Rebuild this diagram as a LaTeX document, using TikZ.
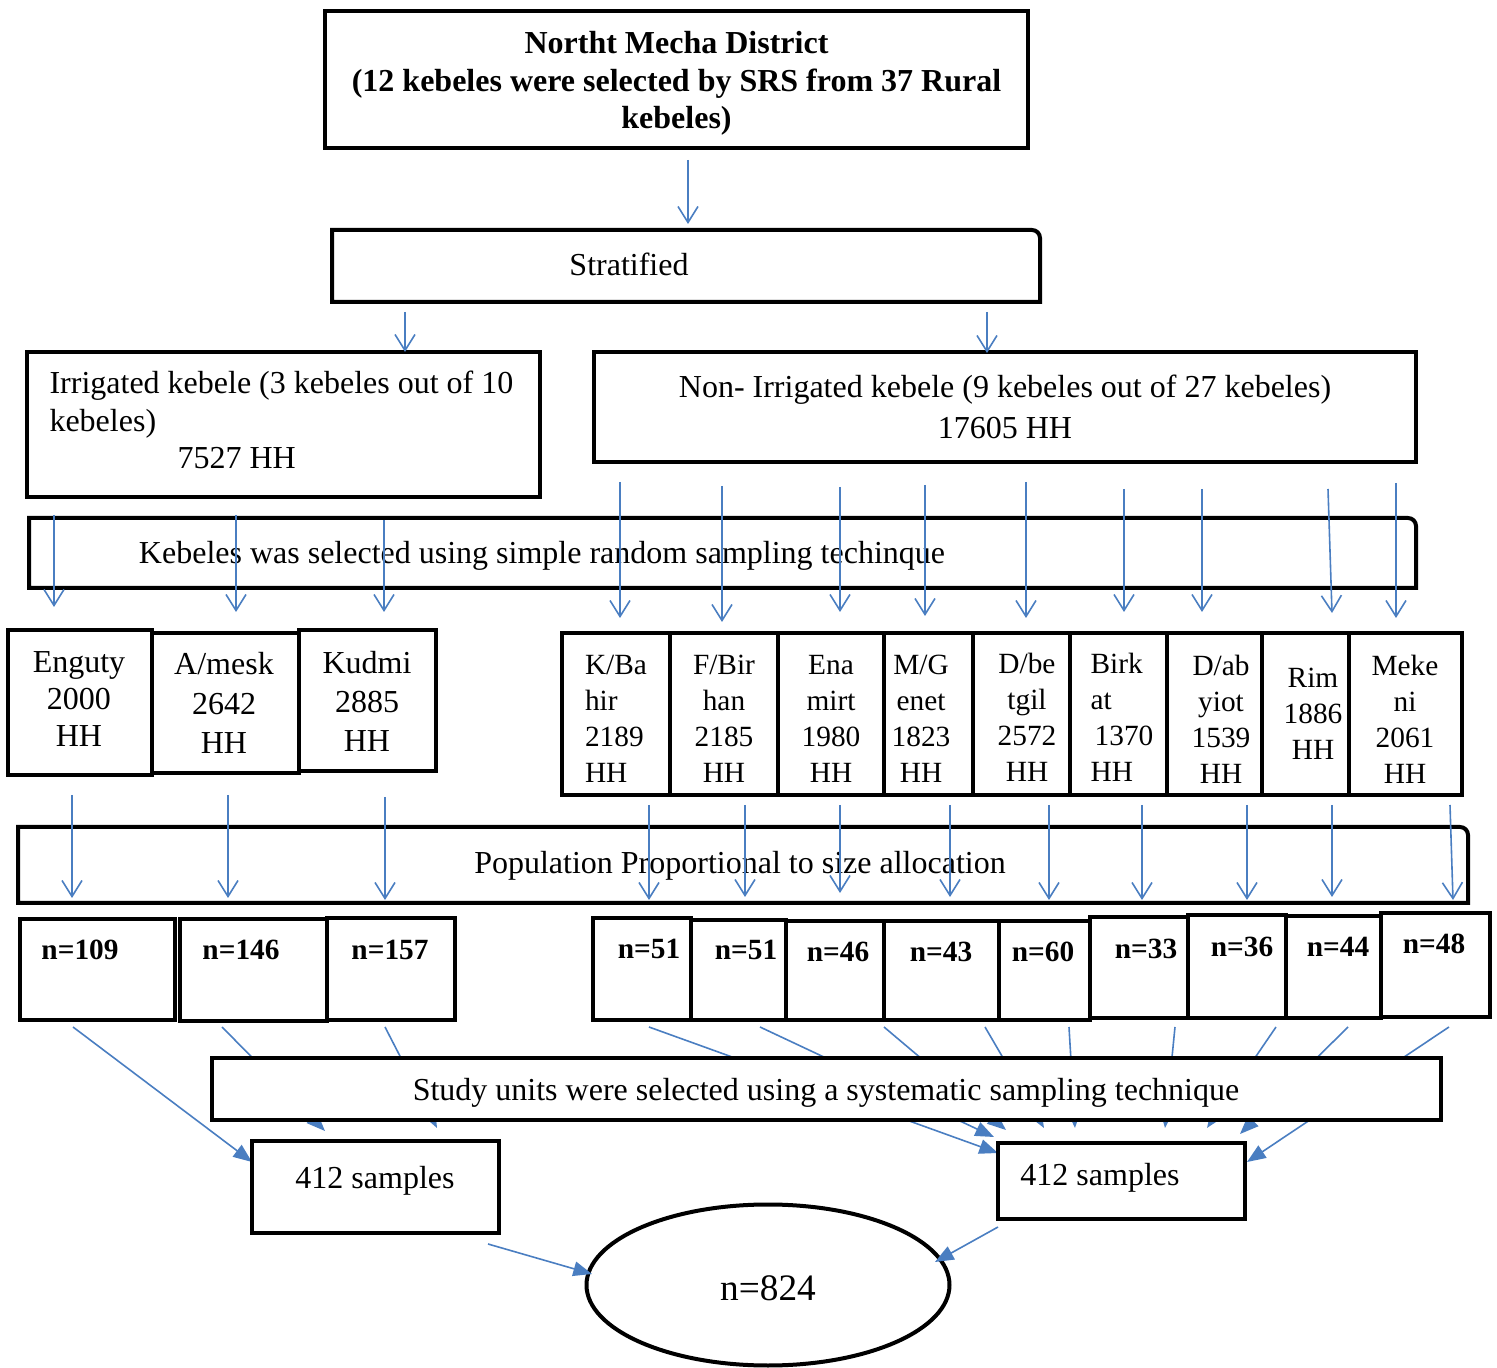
\documentclass[tikz,border=0pt]{standalone}
\usepackage{fontspec}
\setmainfont{Liberation Serif}
\usetikzlibrary{arrows.meta,shapes.geometric}
\definecolor{wordblue}{RGB}{74,126,193}

\tikzset{
  box/.style = {draw, line width=1.5pt, fill=white, inner sep=0pt, align=center,
                font=\fontsize{12}{14.4}\selectfont},
  sz/.style 2 args = {minimum width=#1*0.375pt, minimum height=#2*0.375pt},
  txt/.style = {inner sep=0pt, align=center, font=\fontsize{12}{14.4}\selectfont},
  arr/.style = {draw=wordblue, line width=0.6pt, -{Straight Barb[length=6pt,width=7.5pt]}},
  farr/.style = {draw=wordblue, line width=0.6pt, -{Triangle[length=7pt,width=5.5pt]}}
}
\newcommand\rndbox[1]{\draw[line width=1.5pt] (#1.south west) -- (#1.north west)
  -- ([xshift=-3pt]#1.north east) arc[start angle=90, end angle=0, radius=3pt]
  -- (#1.south east) -- cycle;}

\begin{document}
\begin{tikzpicture}[x=0.375pt, y=-0.375pt]
\useasboundingbox (0,0) rectangle (1497,1368);

\node[box, sz={703}{137}] (top) at (676.5,79.5) {};
\node[txt, font=\fontsize{12}{14}\selectfont\bfseries] (top-t) at (676.5,83.5)
  {Northt Mecha District\\(12 kebeles were selected by SRS from 37 Rural\\kebeles)};
\node[box, draw=none, sz={704}{68}] (strat) at (686,266) {};
\rndbox{strat}
\node[txt] (strat-t) at (629,264) {Stratified};

\node[box, sz={513}{145}] (irr) at (283.5,424.5) {};
\node[txt, anchor=west, align=left, font=\fontsize{12}{14}\selectfont] (irr-t) at (49,420)
  {Irrigated kebele (3 kebeles out of 10\\kebeles)\\\hspace*{48pt}7527 HH};
\node[box, sz={822}{110}, font=\fontsize{12}{15.4}\selectfont] (nonirr) at (1005,407)
  {Non- Irrigated kebele (9 kebeles out of 27 kebeles)\\17605 HH};

\node[box, draw=none, sz={1383}{66}] (kebsel) at (722.5,553) {};
\rndbox{kebsel}
\node[txt] (kebsel-t) at (542,556) {Kebeles was selected using simple random sampling techinque};

\foreach \xa/\ya/\xb/\yb [count=\i] in {688/160/688/224, 405/312/405/352, 987/312/987/353,
    54/515/54/607, 236/515/236/612, 384/520/384/612,
    620/482/620/618, 722/486/722/622, 840/487/840/612, 925/485/925/616, 1026/482/1026/618,
    1124/489/1124/612, 1202/489/1202/612, 1328/489/1332/613, 1396/483/1396/618}
  {\coordinate (u\i) at (\xa,\ya); \coordinate (v\i) at (\xb,\yb); \draw[arr] (u\i) -- (v\i);}

\foreach \nm/\cx/\cy/\w/\h/\tx/\ty/\bs/\txt in {k1/80/702.5/144/145/79/699/13.9/{Enguty\\2000\\HH},
    k2/225.5/703/147/140/224/703/14.8/{A/mesk\\2642\\HH},
    k3/367.5/700.5/137/141/367/701/14.6/{Kudmi\\2885\\HH}}
  {\node[box, sz={\w}{\h}] (\nm) at (\cx,\cy) {};
   \node[txt, font=\fontsize{12}{\bs}\selectfont] (\nm-t) at (\tx,\ty) {\txt};}

\foreach \nm/\cx/\w/\tx/\ty/\al/\txt in {k4/616/108/616/719/left/{K/Ba\\hir\\2189\\HH},
    k5/724/108/724/719/center/{F/Bir\\han\\2185\\HH}, k6/831/106/831/719/center/{Ena\\mirt\\1980\\HH},
    k7/928.5/89/921/719/center/{M/G\\enet\\1823\\HH}, k8/1021.5/97/1027/717/center/{D/be\\tgil\\2572\\HH},
    k9/1118.5/97/1122/717/left/{Birk\\at\\\hspace*{1.5pt}1370\\HH},
    k10/1214.5/95/1221/719/center/{D/ab\\yiot\\1539\\HH},
    k11/1305.5/87/1313/714/center/{Rim\\1886\\HH}, k12/1405.5/113/1405/719/center/{Meke\\ni\\2061\\HH}}
  {\node[box, sz={\w}{162}] (\nm) at (\cx,714) {};
   \node[txt, align=\al, font=\fontsize{11}{13.5}\selectfont] (\nm-t) at (\tx,\ty) {\txt};}

\node[box, draw=none, sz={1446}{72}] (pop) at (743,865) {};
\rndbox{pop}
\node[txt] (pop-t) at (740,866) {Population Proportional to size allocation};

\foreach \xa/\ya/\xb/\yb [count=\i] in {72/795/72/898, 228/795/228/898, 385/797/385/900,
    649/805/649/900, 745/805/745/897, 840/805/840/893, 950/805/950/897, 1049/805/1049/900,
    1142/805/1142/900, 1247/805/1247/900, 1332/805/1332/897, 1450/805/1453/900}
  {\coordinate (p\i) at (\xa,\ya); \coordinate (q\i) at (\xb,\yb); \draw[arr] (p\i) -- (q\i);}

\foreach \nm/\cx/\cy/\w/\h/\tx/\ty/\txt in {n1/97.5/969.5/155/101/80/950/109,
    n2/253.5/970/147/102/241/950/146, n3/391/969/128/102/390/950/157,
    n4/642/969/98/102/649/949/51, n5/738.5/970/95/100/746/950/51,
    n6/835/970.5/98/99/838/952/46, n7/941.5/970.5/115/99/941/952/43,
    n8/1044.5/970.5/91/99/1043/952/60, n9/1139/967.5/98/101/1146/949/33,
    n10/1237/966.5/98/103/1242/947/36, n11/1333.5/967/95/102/1338/947/44,
    n12/1435.5/965/109/104/1434/944/48}
  {\node[box, sz={\w}{\h}] (\nm) at (\cx,\cy) {};
   \node[txt, font=\fontsize{11}{13}\selectfont\bfseries] (\nm-t) at (\tx,\ty) {n=\txt};}

\foreach \xa/\ya/\xb/\yb [count=\i] in {73/1027/252/1162, 222/1027/325/1131, 385/1027/437/1128,
    649/1027/998/1153, 760/1027/994/1137, 884/1027/1006/1130, 985/1027/1044/1128,
    1069/1027/1075/1128, 1175/1027/1165/1128, 1276/1027/1207/1128, 1348/1027/1240/1134,
    1449/1027/1247/1162}
  {\coordinate (r\i) at (\xa,\ya); \coordinate (w\i) at (\xb,\yb); \draw[farr] (r\i) -- (w\i);}

\node[box, sz={1229}{62}] (study) at (826.5,1089) {};
\node[txt] (study-t) at (826,1093) {Study units were selected using a systematic sampling technique};

\node[box, sz={247}{92}] (s1) at (375.5,1187) {};
\node[txt] (s1-t) at (375,1181) {412 samples};
\node[box, sz={247}{76}] (s2) at (1121.5,1181) {};
\node[txt] (s2-t) at (1100,1178) {412 samples};
\node[box, ellipse, sz={363}{161}] (tot) at (768,1285) {};
\node[txt, font=\fontsize{14}{16}\selectfont] (tot-t) at (768,1288) {n=824};

\coordinate (e1) at (488,1244); \coordinate (f1) at (592,1274);
\coordinate (e2) at (998,1227); \coordinate (f2) at (935,1262);
\draw[farr] (e1) -- (f1);
\draw[farr] (e2) -- (f2);
\end{tikzpicture}
\end{document}
